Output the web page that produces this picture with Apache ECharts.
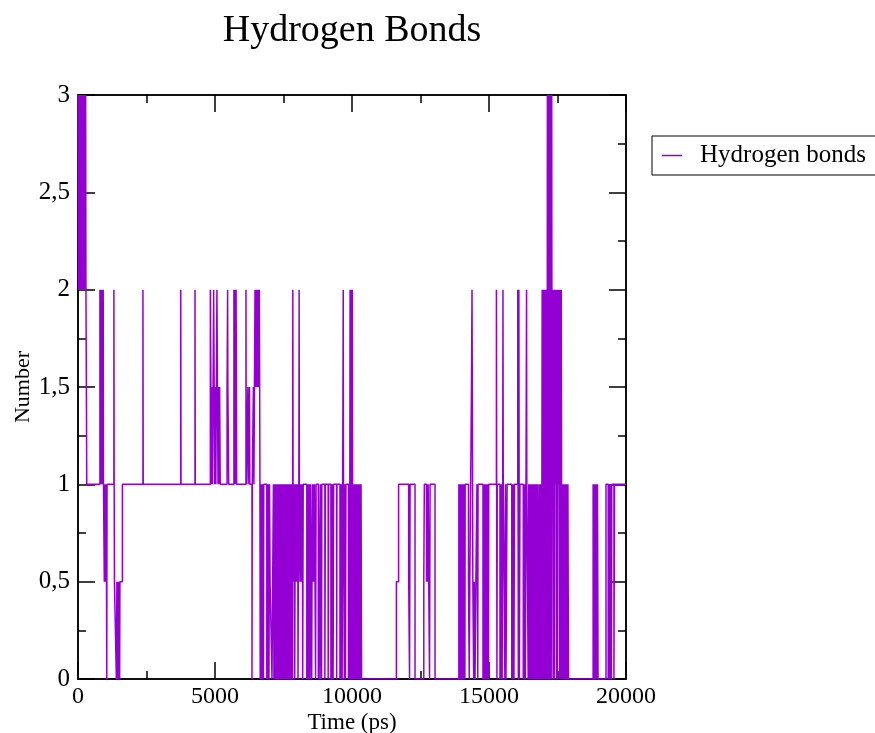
<!DOCTYPE html>
<html>
<head>
<meta charset="utf-8">
<script src="https://cdn.jsdelivr.net/npm/echarts@6/dist/echarts.min.js"></script>
<style>
  html, body { margin: 0; padding: 0; background: #fff; }
  #chart { width: 875px; height: 733px; }
</style>
</head>
<body>
<div id="chart"></div>
<script>
// ---- Data: [time (ps), number of hydrogen bonds]; each value holds until the next point ----
const bondsEarly = [
  [0,3],[20,2],[40,3],[60,2],[80,3],[100,2],[120,3],[140,2],[160,3],[180,2],[200,3],[220,2],[240,3],[260,2],[280,3],[290,2],[320,1],
  [800,2],[820,1],[840,2],[860,1],[880,2],[900,1],[920,2],[930,1],
  [960,0.5],[980,1],[1000,0.5],[1020,1],[1040,0.5],[1050,0],[1060,1],
  [1310,2],[1320,1],[1330,0.5],[1400,0],[1420,0.5],[1440,0],[1460,0.5],[1480,0],[1500,0.5],[1520,0],[1530,0.5],[1620,1],
  [2370,2],[2380,1]
];
const bondsMid1 = [
  [3750,2],[3760,1],[4270,2],[4280,1],
  [4830,2],[4850,1.5],[4870,1],[4890,1.5],[4910,1],[4930,1.5],[4950,2],[4970,1.5],[4990,1],[5010,1.5],
  [5030,1],[5050,1.5],[5070,2],[5090,1.5],[5110,1],[5130,1.5],[5150,1],[5170,1.5],[5190,1],
  [5440,1.5],[5460,2],[5470,1.5],[5500,1],
  [5690,2],[5710,1],[5730,2],[5750,1],[5770,2],[5790,1],
  [6130,2],[6140,1],[6200,1.5],[6210,1],[6260,1.5],[6270,1],
  [6350,0],[6360,1],
  [6400,1.5],[6420,1],[6440,1.5],[6460,2],[6480,1.5],[6500,2],[6520,1.5],[6540,2],[6560,1.5],[6580,2],[6600,1.5],[6620,2],[6640,1],
  [6650,0],[6670,1],[6690,0],[6710,1],[6730,0],[6750,1],[6770,0],[6780,1]
];
const bondsMid2 = [
  [6890,0],[6910,1],[6930,0],[6950,1],[6970,0],[6990,1],
  [7010,0.5],[7080,0],[7130,1],
  [7150,0],[7170,1],[7190,0],[7210,1],[7230,0],[7250,1],[7270,0],[7290,1],[7310,0],[7330,1],[7350,0],[7370,1],
  [7390,0],[7410,1],[7430,0],[7450,1],[7470,0],[7490,1],[7510,0],[7530,1],[7550,0],[7570,1],[7590,0],[7610,1],
  [7630,0],[7650,1],[7670,0],[7690,1],[7710,0],[7730,1],[7750,0],[7770,1],[7790,0],[7810,1],[7830,0],[7840,2],[7850,1],
  [7870,0.5],[7890,1],[7910,0],[7920,0.5],[7940,1],[7960,0.5],[7980,1],[8000,0.5],[8020,1],[8030,0],[8040,0.5],
  [8060,1],[8070,2],[8080,1],[8100,0.5],[8120,1],[8140,0.5],[8160,1],[8180,0.5],[8190,1],
  [8200,0],[8220,1],
  [8350,0],[8370,1],[8390,0],[8410,1],[8430,0],[8450,1],[8470,0],[8480,1],
  [8530,0],[8550,1],[8570,0.5],[8590,1],[8610,0.5],[8630,1],[8650,0.5],[8670,0],[8690,1],
  [8770,0],[8780,1],[8830,0],[8850,1],[8890,0],[8900,1],
  [9010,0],[9030,1],[9130,0],[9150,1],
  [9230,0],[9250,1],[9270,0],[9290,1],[9310,0],[9330,1],[9440,0],[9450,1],
  [9560,0],[9580,1],[9600,0],[9620,1],[9640,0],[9660,1],[9680,2],[9690,1],
  [9720,0],[9740,1],[9760,0],[9780,1],
  [9870,0],[9890,1],[9910,0],[9930,2],[9950,0],[9970,2],[9990,0],[10010,2],[10030,0],[10050,1],
  [10070,0],[10090,1],[10110,0],[10130,1],[10150,0],[10170,1],[10190,0],[10210,1],[10230,0],[10250,1],
  [10270,0],[10290,1],[10310,0],[10330,1],[10350,0]
];
const bondsLate1 = [
  [11620,0.5],[11700,1],[12070,0.5],[12100,0],[12120,1],[12300,0],
  [12620,0.5],[12640,1],[12720,0.5],[12740,1],[12760,0.5],[12780,1],[12800,0.5],[12830,0],[12850,1],[13030,0]
];
const bondsLate2 = [
  [13900,1],[13920,0],[13940,1],[13960,0],[13980,1],[14000,0],[14020,1],[14040,0],[14060,1],[14080,0],[14100,1],[14120,0],[14130,1],
  [14250,0.5],[14280,0],[14300,0.5],[14360,1.5],[14380,2],[14390,1.5],[14410,0.5],[14440,0],
  [14460,0.5],[14490,0],[14520,0.5],[14560,1],[14590,0],[14600,1],
  [14780,0],[14800,1],[14820,0],[14840,1],[14860,0],[14880,1],[14900,0],[14920,1],[14940,0],[14960,1],[14980,0],[14990,1],
  [15270,2],[15290,0],[15300,1],
  [15400,0],[15420,1],[15440,0],[15460,1],[15480,0],[15500,1],[15510,2],[15520,1],[15550,0.5],[15580,0],
  [15600,1],[15620,0],[15640,0.5],[15660,1],
  [15830,0],[15850,1],[15870,0],[15890,1],[15910,0],[15930,1],
  [16050,2],[16070,0],[16090,2],[16110,0],[16130,1]
];
const bondsLate3 = [
  [16250,0],[16270,1],[16290,0],[16310,1],[16330,0],[16350,1],[16370,2],[16380,1],
  [16430,0],[16450,1],[16470,0],[16490,1],[16510,0],[16530,1],[16550,0],[16570,1],[16590,0],[16610,1],
  [16630,0],[16650,1],[16670,0],[16690,1],[16710,0],[16730,1],[16750,0],[16760,1],
  [16800,0],[16820,1],[16840,0],[16860,1],[16880,0],[16900,1],[16920,0],[16940,2],[16960,0],[16980,2],
  [17000,0],[17020,2],[17040,0],[17060,2],[17080,0],[17100,2],[17120,0],
  [17130,3],[17150,0],[17170,3],[17190,0],[17210,3],[17230,0],[17250,3],[17270,0],[17290,3],
  [17300,1],[17320,2],[17340,0],[17360,2],[17380,0],[17400,2],[17420,1],[17440,2],[17460,0],[17480,2],
  [17500,0],[17520,2],[17540,1],[17560,2],[17580,0],[17600,2],[17620,0],[17640,2],[17650,1],
  [17670,0],[17690,1],[17710,0],[17730,1],[17750,0],[17770,1],[17790,0],[17810,1],[17830,0],[17850,1],[17870,0],[17880,1],[17900,0]
];
const bondsEnd = [
  [18800,1],[18820,0],[18840,1],[18860,0],[18880,1],[18900,0],[18920,1],[18940,0],[18960,1],[18980,0],
  [19270,1],[19350,0],[19370,1],[19390,0],[19410,1],[19430,0],[19450,1],[19470,0],[19480,1],[19560,0],[19580,1],[20000,1]
];
const xTicks = [0, 5000, 10000, 15000, 20000];
const yTicks = [0, 0.5, 1, 1.5, 2, 2.5, 3];
const titleText = 'Hydrogen Bonds';
const seriesName = 'Hydrogen bonds';
const xName = 'Time (ps)';
const yName = 'Number';

const hbonds = [].concat(bondsEarly, bondsMid1, bondsMid2, bondsLate1, bondsLate2, bondsLate3, bondsEnd);

const SERIF = '"Liberation Serif", "DejaVu Serif", serif';
const chart = echarts.init(document.getElementById('chart'), null, { renderer: 'canvas' });

const xInterval = xTicks[1] - xTicks[0];
const yInterval = yTicks[1] - yTicks[0];

function frameAxis(extra) {
  return Object.assign({
    type: 'value',
    axisLine: { show: true, onZero: false, lineStyle: { color: '#000', width: 1.5 } },
    axisTick: { show: true, inside: true, length: 17, lineStyle: { color: '#000', width: 1.5 } },
    minorTick: { show: true, splitNumber: 2, length: 8, lineStyle: { color: '#000', width: 1.5 } },
    splitLine: { show: false },
    minorSplitLine: { show: false }
  }, extra);
}

chart.setOption({
  animation: false,
  backgroundColor: '#fff',
  title: {
    text: titleText,
    left: 347,
    top: 7,
    textAlign: 'center',
    textStyle: { fontFamily: SERIF, fontSize: 38, fontWeight: 'normal', color: '#000' }
  },
  legend: {
    data: [seriesName],
    left: 652,
    top: 136,
    orient: 'vertical',
    padding: [7, 10, 7, 10],
    borderColor: '#000',
    borderWidth: 1,
    icon: 'rect',
    itemWidth: 20,
    itemHeight: 1.5,
    textStyle: { fontFamily: SERIF, fontSize: 25, color: '#000', padding: [0, 0, 0, 13] }
  },
  grid: {
    left: 78, right: 249, top: 95, bottom: 54,
    outerBoundsMode: 'none',
    containLabel: false,
    show: true, borderColor: '#000', borderWidth: 1.5, backgroundColor: 'transparent'
  },
  xAxis: [
    frameAxis({
      position: 'bottom', min: xTicks[0], max: xTicks[xTicks.length - 1], interval: xInterval,
      name: xName, nameLocation: 'middle', nameGap: 32, nameMoveOverlap: false,
      nameTextStyle: { fontFamily: SERIF, fontSize: 23, color: '#000' },
      axisLabel: { fontFamily: SERIF, fontSize: 24, color: '#000', margin: 6, formatter: v => String(v) }
    }),
    frameAxis({
      position: 'top', min: xTicks[0], max: xTicks[xTicks.length - 1], interval: xInterval,
      axisLabel: { show: false }
    })
  ],
  yAxis: [
    frameAxis({
      position: 'left', min: yTicks[0], max: yTicks[yTicks.length - 1], interval: yInterval,
      name: yName, nameLocation: 'middle', nameGap: 44, nameRotate: 90, nameMoveOverlap: false,
      nameTextStyle: { fontFamily: SERIF, fontSize: 22, color: '#000' },
      axisLabel: {
        fontFamily: SERIF, fontSize: 25, color: '#000', margin: 8,
        formatter: v => String(v).replace('.', ',')
      }
    }),
    frameAxis({
      position: 'right', min: yTicks[0], max: yTicks[yTicks.length - 1], interval: yInterval,
      axisLabel: { show: false }
    })
  ],
  series: [
    {
      name: seriesName,
      type: 'line',
      xAxisIndex: 0,
      yAxisIndex: 0,
      step: 'end',
      data: hbonds,
      showSymbol: false,
      symbol: 'none',
      sampling: null,
      clip: true,
      color: '#9400d3',
      lineStyle: { color: '#9400d3', width: 1.5 }
    }
  ]
});
</script>
</body>
</html>
